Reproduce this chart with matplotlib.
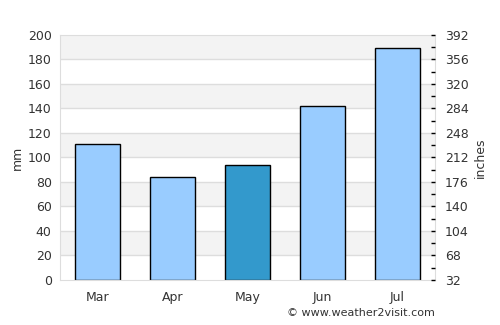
import matplotlib
matplotlib.use("Agg")
import matplotlib.pyplot as plt
from matplotlib.ticker import FixedLocator

months = ["Mar", "Apr", "May", "Jun", "Jul"]
rain_mm = [111, 84, 94, 142, 189]
highlight = "May"

left_ticks = list(range(0, 201, 20))
right_ticks = list(range(32, 393, 36))

fig = plt.figure(figsize=(5, 3.25), dpi=100)
ax = fig.add_axes([0.12, 0.1385, 0.75, 0.754])

# alternating background bands
for i, lo in enumerate(left_ticks[:-1]):
    if i % 2 == 1:
        ax.axhspan(lo, lo + 20, color="#f3f3f3", zorder=0, lw=0)
for t in left_ticks[1:-1]:
    ax.axhline(t, color="#dddddd", lw=1, zorder=0.5)

colors = ["#3399cc" if m == highlight else "#99ccff" for m in months]
ax.bar(range(len(months)), rain_mm, width=0.6, color=colors,
       edgecolor="black", linewidth=1, zorder=2)

ax.set_xlim(-0.5, len(months) - 0.5)
ax.set_ylim(0, 200)
ax.set_yticks(left_ticks)
ax.set_xticks(range(len(months)))
ax.set_xticklabels(months)
ax.tick_params(axis="both", length=0, labelsize=9, colors="#333333", pad=6)
ax.tick_params(axis="x", pad=8)
ax.set_ylabel("mm", fontsize=9, color="#333333", labelpad=3)
for s in ax.spines.values():
    s.set_color("#dddddd")

ax2 = ax.twinx()
ax2.set_ylim(32, 392)
ax2.set_yticks(right_ticks)
minor = [(a + b) / 2 for a, b in zip(right_ticks[:-1], right_ticks[1:])]
ax2.yaxis.set_minor_locator(FixedLocator(minor))
ax2.tick_params(axis="y", which="both", direction="in", length=3, width=1,
                color="black", labelsize=9, labelcolor="#333333", pad=7)
ax2.set_ylabel("inches", fontsize=9, color="#333333", labelpad=4)
for s in ax2.spines.values():
    s.set_visible(False)

fig.text(0.87, 0.02, "\u00a9 www.weather2visit.com", ha="right", va="bottom",
         fontsize=8, color="#333333")

fig.savefig("out.png", dpi=100)
